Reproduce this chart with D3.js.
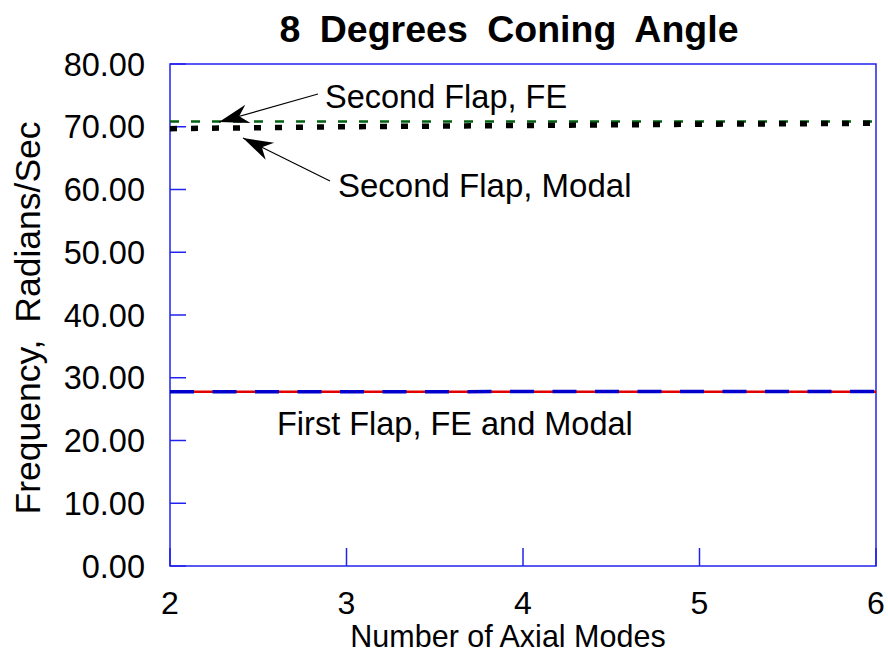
<!DOCTYPE html>
<html>
<head>
<meta charset="utf-8">
<script src="https://cdnjs.cloudflare.com/ajax/libs/d3/7.8.5/d3.min.js"></script>
<style>
  html, body { margin: 0; padding: 0; background: #fff; }
  text { font-family: "Liberation Sans", Arial, Helvetica, sans-serif; fill: #000; }
</style>
</head>
<body>
<svg id="chart" width="888" height="654"></svg>
<script>
// ---- data ----
const axialModes = [2, 3, 4, 5, 6];
const secondFlapFE = [70.85, 70.85, 70.85, 70.85, 70.85];
const secondFlapModal = [69.7, 70.0, 70.2, 70.4, 70.55];
const firstFlapFE = [27.75, 27.75, 27.75, 27.75, 27.75];
const firstFlapModal = [27.75, 27.75, 27.8, 27.8, 27.8];
const yTicks = [0, 10, 20, 30, 40, 50, 60, 70, 80];
const xTicks = [2, 3, 4, 5, 6];
const titleText = "8 Degrees Coning Angle";
const xLabel = "Number of Axial Modes";
const yLabel = "Frequency, Radians/Sec";

const svg = d3.select("#chart");
const L = 170, R = 876, T = 64, B = 566;
const x = d3.scaleLinear().domain([2, 6]).range([L, R]);
const y = d3.scaleLinear().domain([0, 80]).range([B, T]);
const axisColor = "#2222ee";

// frame
svg.append("rect").attr("x", L).attr("y", T).attr("width", R - L).attr("height", B - T)
  .attr("fill", "none").attr("stroke", axisColor).attr("stroke-width", 1.5);

// y ticks (inward)
svg.append("g").selectAll("line").data(yTicks).join("line")
  .attr("x1", L).attr("x2", L + 16)
  .attr("y1", d => y(d)).attr("y2", d => y(d))
  .attr("stroke", axisColor).attr("stroke-width", 1.5);
svg.append("g").selectAll("text").data(yTicks).join("text")
  .attr("x", 145).attr("y", d => y(d)).attr("dy", "0.36em")
  .attr("text-anchor", "end").attr("font-size", 32.5)
  .text(d => d3.format(".2f")(d));

// x ticks (inward)
svg.append("g").selectAll("line").data(xTicks).join("line")
  .attr("x1", d => x(d)).attr("x2", d => x(d))
  .attr("y1", B).attr("y2", B - 18)
  .attr("stroke", axisColor).attr("stroke-width", 1.5);
svg.append("g").selectAll("text").data(xTicks).join("text")
  .attr("x", d => x(d)).attr("y", 614)
  .attr("text-anchor", "middle").attr("font-size", 32)
  .text(d => d);

// lines
const line = vals => d3.line().x((d, i) => x(axialModes[i])).y(d => y(d))(vals);
svg.append("path").attr("d", line(firstFlapFE)).attr("fill", "none")
  .attr("stroke", "#e00000").attr("stroke-width", 2.5);
svg.append("path").attr("d", line(firstFlapModal)).attr("fill", "none")
  .attr("stroke", "#0000cc").attr("stroke-width", 3.5)
  .attr("stroke-dasharray", "24,18.5");
svg.append("path").attr("d", line(secondFlapFE)).attr("fill", "none")
  .attr("stroke", "#006010").attr("stroke-width", 2.5)
  .attr("stroke-dasharray", "9,12");
svg.append("path").attr("d", line(secondFlapModal)).attr("fill", "none")
  .attr("stroke", "#000").attr("stroke-width", 5.5)
  .attr("stroke-dasharray", "7,14");

// annotations
svg.append("text").attr("x", 325).attr("y", 108).attr("font-size", 32.5).text("Second Flap, FE");
svg.append("text").attr("x", 338).attr("y", 197).attr("font-size", 33).text("Second Flap, Modal");
svg.append("text").attr("x", 277).attr("y", 435).attr("font-size", 32.5).text("First Flap, FE and Modal");

function arrow(x1, y1, x2, y2) {
  svg.append("line").attr("x1", x1).attr("y1", y1).attr("x2", x2).attr("y2", y2)
    .attr("stroke", "#000").attr("stroke-width", 1.2);
  const a = Math.atan2(y2 - y1, x2 - x1);
  const len = 30, w = 9.5;
  const bx = x2 - len * Math.cos(a), by = y2 - len * Math.sin(a);
  const nx = -Math.sin(a), ny = Math.cos(a);
  const ix = x2 - len * 0.7 * Math.cos(a), iy = y2 - len * 0.7 * Math.sin(a);
  svg.append("path")
    .attr("d", `M${x2},${y2}L${bx + nx * w},${by + ny * w}L${ix},${iy}L${bx - nx * w},${by - ny * w}Z`)
    .attr("fill", "#000");
}
arrow(318, 94, 219, 122);
arrow(330, 181, 243, 138);

// title and labels
svg.append("text").attr("x", 509).attr("y", 42).attr("text-anchor", "middle")
  .attr("font-size", 37.5).attr("font-weight", "bold").attr("word-spacing", 9)
  .text(titleText);
svg.append("text").attr("x", 508).attr("y", 647).attr("text-anchor", "middle")
  .attr("font-size", 30.5).text(xLabel);
svg.append("text").attr("transform", "translate(40,318) rotate(-90)")
  .attr("text-anchor", "middle").attr("font-size", 35.5).attr("word-spacing", 7).text(yLabel);
</script>
</body>
</html>
